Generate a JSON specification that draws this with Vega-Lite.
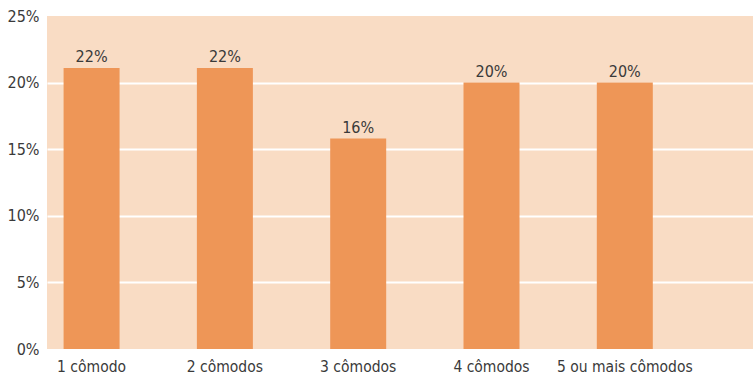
{
  "$schema": "https://vega.github.io/schema/vega-lite/v6.json",
  "autosize": "none",
  "width": 706,
  "height": 333,
  "padding": {"left": 47, "top": 16, "right": 0, "bottom": 27},
  "background": "#ffffff",
  "config": {
    "view": {"fill": "#F9DCC4", "stroke": null},
    "font": "DejaVu Sans Condensed, sans-serif"
  },
  "data": {
    "values": [
      {"categoria": "1 cômodo", "valor": 21.1, "rotulo": "22%"},
      {"categoria": "2 cômodos", "valor": 21.1, "rotulo": "22%"},
      {"categoria": "3 cômodos", "valor": 15.8, "rotulo": "16%"},
      {"categoria": "4 cômodos", "valor": 20.0, "rotulo": "20%"},
      {"categoria": "5 ou mais cômodos", "valor": 20.0, "rotulo": "20%"}
    ]
  },
  "encoding": {
    "x": {
      "field": "categoria",
      "type": "nominal",
      "sort": null,
      "scale": {"paddingInner": 0.58, "paddingOuter": 0.438, "align": 0.142},
      "axis": {
        "title": null,
        "labelAngle": 0,
        "ticks": false,
        "domain": false,
        "labelPadding": 10,
        "labelFontSize": 15.5,
        "labelColor": "#3a3a3a",
        "grid": false
      }
    },
    "y": {
      "field": "valor",
      "type": "quantitative",
      "scale": {"domain": [0, 25], "nice": false},
      "axis": {
        "title": null,
        "values": [0, 5, 10, 15, 20, 25],
        "labelExpr": "datum.value + '%'",
        "ticks": false,
        "domain": false,
        "labelPadding": 8,
        "labelFontSize": 16,
        "labelColor": "#3a3a3a",
        "grid": true,
        "gridColor": "#ffffff",
        "gridWidth": 2,
        "gridOpacity": {"condition": {"test": "datum.value == 0 || datum.value == 25", "value": 0}, "value": 1}
      }
    }
  },
  "layer": [
    {"mark": {"type": "bar", "color": "#EE9657"}},
    {
      "mark": {"type": "text", "baseline": "bottom", "dy": -3, "fontSize": 16, "color": "#3a3a3a"},
      "encoding": {"text": {"field": "rotulo"}}
    }
  ]
}
